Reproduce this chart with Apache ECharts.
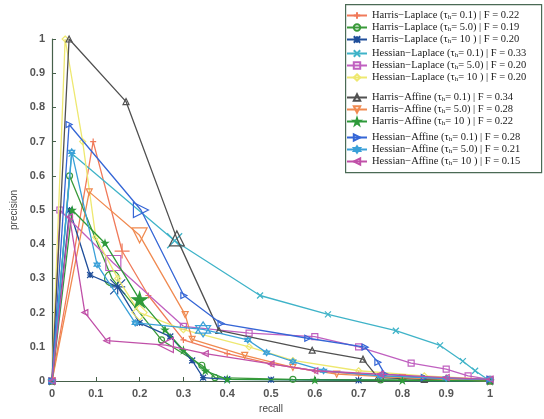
<!DOCTYPE html>
<html><head><meta charset="utf-8">
<script src="https://cdn.jsdelivr.net/npm/echarts@6/dist/echarts.min.js"></script>
<style>html,body{margin:0;padding:0;background:#fff}#c{width:544px;height:419px}</style>
</head><body><div id="c"></div>
<script>
// ---- data (recall, precision) ----
var names = [
  'Harris\u2212Laplace (τh= 0.1) | F = 0.22',
  'Harris\u2212Laplace (τh= 5.0) | F = 0.19',
  'Harris\u2212Laplace (τh= 10 ) | F = 0.20',
  'Hessian\u2212Laplace (τh= 0.1) | F = 0.33',
  'Hessian\u2212Laplace (τh= 5.0) | F = 0.20',
  'Hessian\u2212Laplace (τh= 10 ) | F = 0.20',
  'Harris\u2212Affine (τh= 0.1) | F = 0.34',
  'Harris\u2212Affine (τh= 5.0) | F = 0.28',
  'Harris\u2212Affine (τh= 10 ) | F = 0.22',
  'Hessian\u2212Affine (τh= 0.1) | F = 0.28',
  'Hessian\u2212Affine (τh= 5.0) | F = 0.21',
  'Hessian\u2212Affine (τh= 10 ) | F = 0.15'
];
var harrisLap01 = [[0,0],[0.094,0.70],[0.16,0.38],[0.22,0.25],[0.30,0.12],[0.40,0.08],[0.50,0.05],[0.60,0.03],[0.70,0.02],[0.80,0.012],[0.90,0.01],[1,0.005]];
var harrisLap50 = [[0,0],[0.04,0.60],[0.137,0.30],[0.25,0.12],[0.342,0.046],[0.372,0.01],[0.55,0.005],[0.75,0.003],[1,0]];
var harrisLap10 = [[0,0],[0.04,0.50],[0.087,0.31],[0.15,0.275],[0.20,0.17],[0.27,0.13],[0.32,0.06],[0.345,0.01],[0.40,0.005],[0.50,0.004],[0.70,0.002],[1,0]];
var hessLap01 = [[0,0],[0.045,0.665],[0.28,0.41],[0.475,0.25],[0.63,0.195],[0.785,0.147],[0.886,0.104],[0.938,0.058],[0.966,0.03],[1,0]];
var hessLap50 = [[0,0],[0.018,0.50],[0.14,0.345],[0.30,0.16],[0.45,0.14],[0.60,0.13],[0.70,0.10],[0.82,0.052],[0.90,0.035],[0.95,0.015],[1,0.005]];
var hessLap10 = [[0,0],[0.03,1.0],[0.07,0.70],[0.10,0.42],[0.15,0.30],[0.20,0.20],[0.30,0.15],[0.45,0.10],[0.55,0.06],[0.70,0.03],[0.85,0.015],[1,0.005]];
var harrisAff01 = [[0,0],[0.039,1.0],[0.169,0.817],[0.285,0.417],[0.381,0.148],[0.594,0.09],[0.71,0.064],[0.744,0.01],[0.85,0.005],[1,0]];
var harrisAff50 = [[0,0],[0.085,0.553],[0.20,0.426],[0.304,0.194],[0.32,0.122],[0.44,0.075],[0.55,0.04],[0.65,0.02],[0.80,0.01],[1,0]];
var harrisAff10 = [[0,0],[0.046,0.50],[0.121,0.403],[0.20,0.238],[0.258,0.15],[0.30,0.09],[0.35,0.03],[0.40,0.005],[0.60,0.003],[0.80,0.002],[1,0]];
var hessAff01 = [[0,0],[0.039,0.75],[0.203,0.50],[0.301,0.25],[0.386,0.168],[0.584,0.125],[0.715,0.099],[0.744,0.055],[0.76,0.02],[0.85,0.01],[1,0.005]];
var hessAff50 = [[0,0],[0.045,0.67],[0.103,0.34],[0.19,0.17],[0.345,0.151],[0.447,0.12],[0.49,0.083],[0.55,0.057],[0.62,0.03],[0.75,0.015],[0.90,0.008],[1,0.005]];
var hessAff10 = [[0,0],[0.04,0.48],[0.075,0.20],[0.125,0.118],[0.26,0.105],[0.35,0.08],[0.50,0.05],[0.60,0.03],[0.75,0.02],[0.90,0.01],[1,0.005]];
var bestIdx = [2,2,3,2,2,5,3,2,3,2,4,4];

// ---- styles ----
var allData = [harrisLap01,harrisLap50,harrisLap10,hessLap01,hessLap50,hessLap10,harrisAff01,harrisAff50,harrisAff10,hessAff01,hessAff50,hessAff10];
var colors = ['#f07a5a','#3a9a3a','#1f4e9a','#3fb3c8','#c060c0','#eee870','#505050','#f08a50','#2e9a3a','#3566d6','#3aa0d8','#c050a8'];
var PLUS='path://M5,0L5,10M0,5L10,5';
var XS='path://M0,0L10,10M0,10L10,0';
var AST='path://M0,0L10,10M0,10L10,0M5,0L5,10M0,5L10,5';
var TRI_D='path://M0,0L10,0L5,10Z';
var TRI_R='path://M0,0L10,5L0,10Z';
var TRI_L='path://M10,0L0,5L10,10Z';
var PENT='path://M5,0L6.12,3.46L9.76,3.45L6.81,5.59L7.94,9.05L5,6.9L2.06,9.05L3.19,5.59L0.24,3.45L3.88,3.46Z';
var HEX='path://M5,0L9.33,7.5L0.67,7.5Z M5,10L0.67,2.5L9.33,2.5Z';
var symbols = [PLUS,'circle',AST,XS,'rect','diamond','triangle',TRI_D,PENT,TRI_R,HEX,TRI_L];
var filled = [false,false,true,false,false,false,false,false,true,false,false,false];

var series = allData.map(function(d,k){
  return {
    type:'line', name:names[k],
    data: d.map(function(p,i){ return i===bestIdx[k] ? {value:p, symbolSize:15} : p; }),
    symbol:symbols[k], symbolSize:6, showAllSymbol:true,
    lineStyle:{color:colors[k], width:1.3},
    itemStyle:{color: filled[k]?colors[k]:'rgba(255,255,255,0)', borderColor:colors[k], borderWidth:1.2},
    emphasis:{disabled:true}, animation:false, z:2+k*0.01
  };
});

function legendAt(top, idx){
  return {
    orient:'vertical', left:346, top:top, padding:0, itemGap:1, itemWidth:20, itemHeight:8,
    data: idx.map(function(i){return names[i];}),
    selectedMode:false,
    formatter:function(n){ return n.replace('τh','τ{s|h}'); },
    textStyle:{fontFamily:'Liberation Serif', fontSize:10.5, color:'#1a1a1a', lineHeight:10,
      rich:{s:{fontFamily:'Liberation Serif', fontSize:7, color:'#1a1a1a', lineHeight:10, verticalAlign:'bottom'}}},
    z:5
  };
}

var chart = echarts.init(document.getElementById('c'));
chart.setOption({
  backgroundColor:'#fff',
  animation:false,
  grid:{left:52, right:54, top:39, bottom:35},
  xAxis:{type:'value', min:0, max:1, interval:0.1, name:'recall', nameLocation:'middle', nameGap:23,
    nameTextStyle:{fontFamily:'Liberation Sans', fontSize:10, color:'#444'},
    axisLine:{lineStyle:{color:'#46604a', width:1.2}},
    axisTick:{inside:true, length:4, lineStyle:{color:'#46604a'}},
    axisLabel:{fontFamily:'Liberation Sans', fontSize:11, fontWeight:'bold', color:'#555', margin:7},
    splitLine:{show:false}},
  yAxis:{type:'value', min:0, max:1, interval:0.1, name:'precision', nameLocation:'middle', nameGap:33,
    nameTextStyle:{fontFamily:'Liberation Sans', fontSize:10, color:'#444'},
    axisLine:{show:true, lineStyle:{color:'#46604a', width:1.2}},
    axisTick:{show:true, inside:true, length:4, lineStyle:{color:'#46604a'}},
    axisLabel:{fontFamily:'Liberation Sans', fontSize:11, fontWeight:'bold', color:'#555', margin:7},
    splitLine:{show:false}},
  graphic:[{type:'rect', left:345, top:4, shape:{width:196, height:168}, z:3,
    style:{fill:'#fff', stroke:'#4a6a55', lineWidth:1.2}}],
  legend:[legendAt(10,[0,1,2]), legendAt(48,[3,4,5]), legendAt(92,[6,7,8]), legendAt(132,[9,10,11])],
  series:series
});
</script></body></html>
